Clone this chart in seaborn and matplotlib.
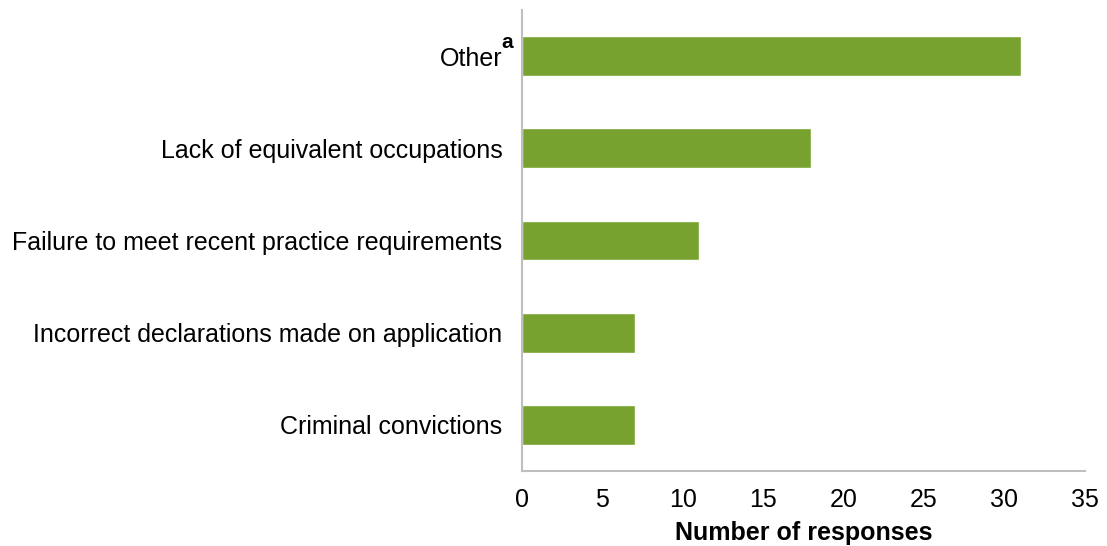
import matplotlib
matplotlib.use("Agg")
import matplotlib.pyplot as plt
import seaborn as sns
import pandas as pd

categories = ["Other", "Lack of equivalent occupations",
              "Failure to meet recent practice requirements",
              "Incorrect declarations made on application",
              "Criminal convictions"]
values = [31, 18, 11, 7, 7]
xticks = [0, 5, 10, 15, 20, 25, 30, 35]

sns.set_theme(style="white")
plt.rcParams['font.family'] = ['Liberation Sans', 'DejaVu Sans']

df = pd.DataFrame({"category": categories, "value": values})

fig = plt.figure(figsize=(11.07, 5.46), dpi=100)
ax = fig.add_axes([0.4715, 0.1374, 0.5085, 0.8443])
sns.barplot(data=df, x="value", y="category", orient="h", color="#78A22F",
            saturation=1, width=0.43, ax=ax)
ax.set_xlim(0, 35)
ax.set_ylim(4.5, -0.5)
ax.set_xticks(xticks)
ax.set_xticklabels([str(t) for t in xticks], fontsize=18, color="#000000")
ax.set_yticks(range(len(categories)))
ax.set_yticklabels(categories, fontsize=18, color="#000000")
ax.set_ylabel("")
ax.set_xlabel("Number of responses", fontsize=18, fontweight="bold", labelpad=7,
              color="#000000")
for s in ["top", "right"]:
    ax.spines[s].set_visible(False)
for s in ["left", "bottom"]:
    ax.spines[s].set_color("#BFBFBF")
    ax.spines[s].set_linewidth(1.5)
ax.tick_params(axis="x", direction="out", length=7, width=1.5, color="#BFBFBF", pad=5)
ax.tick_params(axis="y", length=0, pad=14)
ax.text(-0.037, 0.918, "a", transform=ax.transAxes, fontsize=15, fontweight="bold",
        ha="left", va="baseline", color="#000000")
fig.savefig("out.png", dpi=100)
